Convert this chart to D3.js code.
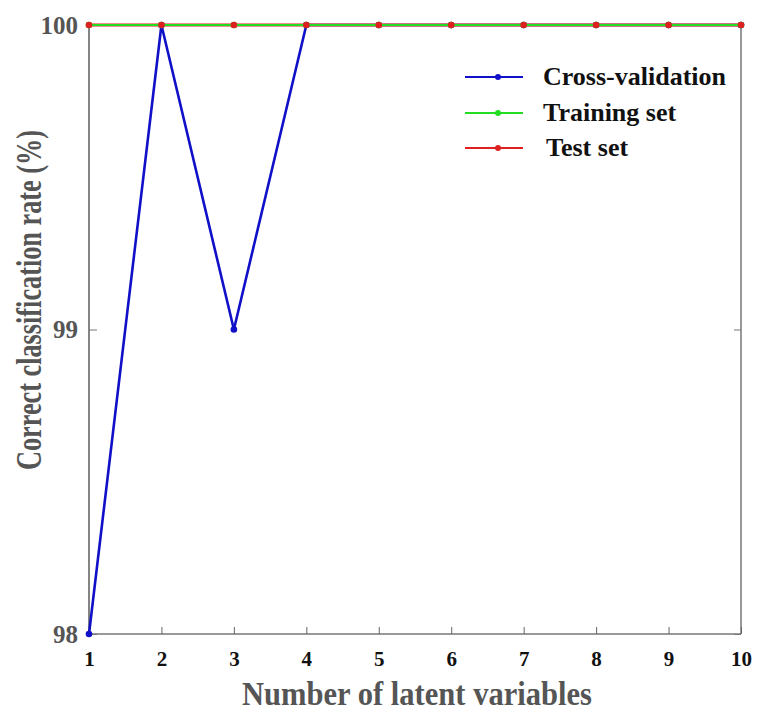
<!DOCTYPE html>
<html><head><meta charset="utf-8">
<script src="https://cdn.jsdelivr.net/npm/d3@7"></script>
<style>body{margin:0;background:#fff}svg{display:block}</style>
</head><body>
<script>
const latentVars = [1,2,3,4,5,6,7,8,9,10];
const crossValidation = [98,100,99,100,100,100,100,100,100,100];
const trainingSet = [100,100,100,100,100,100,100,100,100,100];
const testSet = [100,100,100,100,100,100,100,100,100,100];
const yTicks = [98,99,100];
const seriesNames = ["Cross-validation","Training set","Test set"];
const colors = {"Cross-validation":"#1010c8","Training set":"#22dd22","Test set":"#dd2020"};

const W=761,H=713;
const m={left:89,right:20,top:25,bottom:79};
const svg=d3.select("body").append("svg").attr("width",W).attr("height",H);
const x=d3.scaleLinear().domain([1,10]).range([m.left,W-m.right]);
const y=d3.scaleLinear().domain([98,100]).range([H-m.bottom,m.top]);
const font="'Liberation Serif','Times New Roman',serif";

// frame
const g=svg.append("g");
g.append("line").attr("x1",x(1)).attr("x2",x(1)).attr("y1",y(100)).attr("y2",y(98)).attr("stroke","#333").attr("stroke-width",1.2);
g.append("line").attr("x1",x(10)).attr("x2",x(10)).attr("y1",y(100)).attr("y2",y(98)).attr("stroke","#555").attr("stroke-width",1.2);
g.append("line").attr("x1",x(1)).attr("x2",x(10)).attr("y1",y(98)).attr("y2",y(98)).attr("stroke","#777").attr("stroke-width",1.5);
g.append("line").attr("x1",x(1)).attr("x2",x(10)).attr("y1",y(100)).attr("y2",y(100)).attr("stroke","#777").attr("stroke-width",1);

// x ticks (inward)
const xAxis=d3.axisBottom(x).tickValues(latentVars).tickSizeInner(-7).tickSizeOuter(0).tickPadding(17).tickFormat(d3.format("d"));
const xa=svg.append("g").attr("transform",`translate(0,${y(98)})`).call(xAxis);
xa.select(".domain").remove();
xa.selectAll(".tick line").attr("stroke","#666");
xa.selectAll("text").attr("font-family",font).attr("font-weight","bold").attr("font-size",21).attr("fill","#111");

// y ticks left inward
const yAxis=d3.axisLeft(y).tickValues(yTicks).tickSizeInner(-8).tickSizeOuter(0).tickPadding(11).tickFormat(d3.format("d"));
const ya=svg.append("g").attr("transform",`translate(${x(1)},0)`).call(yAxis);
ya.select(".domain").remove();
ya.selectAll(".tick line").attr("stroke","#777");
ya.selectAll("text").attr("font-family",font).attr("font-weight","bold").attr("font-size",25).attr("fill","#555");
// y ticks right inward
const yAxisR=d3.axisRight(y).tickValues(yTicks).tickSizeInner(-7).tickSizeOuter(0).tickFormat("");
const yr=svg.append("g").attr("transform",`translate(${x(10)},0)`).call(yAxisR);
yr.select(".domain").remove();
yr.selectAll(".tick line").attr("stroke","#777");

// lines
const line=d3.line().x((d,i)=>x(latentVars[i])).y(d=>y(d));
function dots(vals,name){
  svg.append("g").selectAll("circle").data(vals).join("circle")
    .attr("cx",(d,i)=>x(latentVars[i])).attr("cy",d=>y(d)).attr("r",3.3).attr("fill",colors[name]);
}
svg.append("path").datum(crossValidation).attr("d",line).attr("fill","none").attr("stroke",colors["Cross-validation"]).attr("stroke-width",2.6);
dots(crossValidation,"Cross-validation");
svg.append("path").datum(testSet).attr("d",line).attr("fill","none").attr("stroke",colors["Test set"]).attr("stroke-width",3);
svg.append("path").datum(trainingSet).attr("d",line).attr("fill","none").attr("stroke",colors["Training set"]).attr("stroke-width",2.2);
dots(trainingSet,"Training set");
dots(testSet,"Test set");

// legend
const lg=svg.append("g");
const ly=[77,113,148];
const lx=[543,543,546];
seriesNames.forEach((n,i)=>{
  lg.append("line").attr("x1",465).attr("x2",523).attr("y1",ly[i]).attr("y2",ly[i]).attr("stroke",colors[n]).attr("stroke-width",2);
  lg.append("circle").attr("cx",498).attr("cy",ly[i]).attr("r",3).attr("fill",colors[n]);
  lg.append("text").attr("x",lx[i]).attr("y",ly[i]+8).text(n).attr("font-family",font).attr("font-weight","bold").attr("font-size",26).attr("fill","#111");
});

// axis titles
svg.append("text").attr("x",417).attr("y",705).attr("text-anchor","middle").text("Number of latent variables")
  .attr("font-family",font).attr("font-weight","bold").attr("font-size",33).attr("fill","#555")
  .attr("textLength",350).attr("lengthAdjust","spacingAndGlyphs");
svg.append("text").attr("transform",`translate(41,300) rotate(-90)`).attr("text-anchor","middle")
  .text("Correct classification rate (%)").attr("font-family",font).attr("font-weight","bold").attr("font-size",36).attr("fill","#555")
  .attr("textLength",340).attr("lengthAdjust","spacingAndGlyphs");
</script>
</body></html>
